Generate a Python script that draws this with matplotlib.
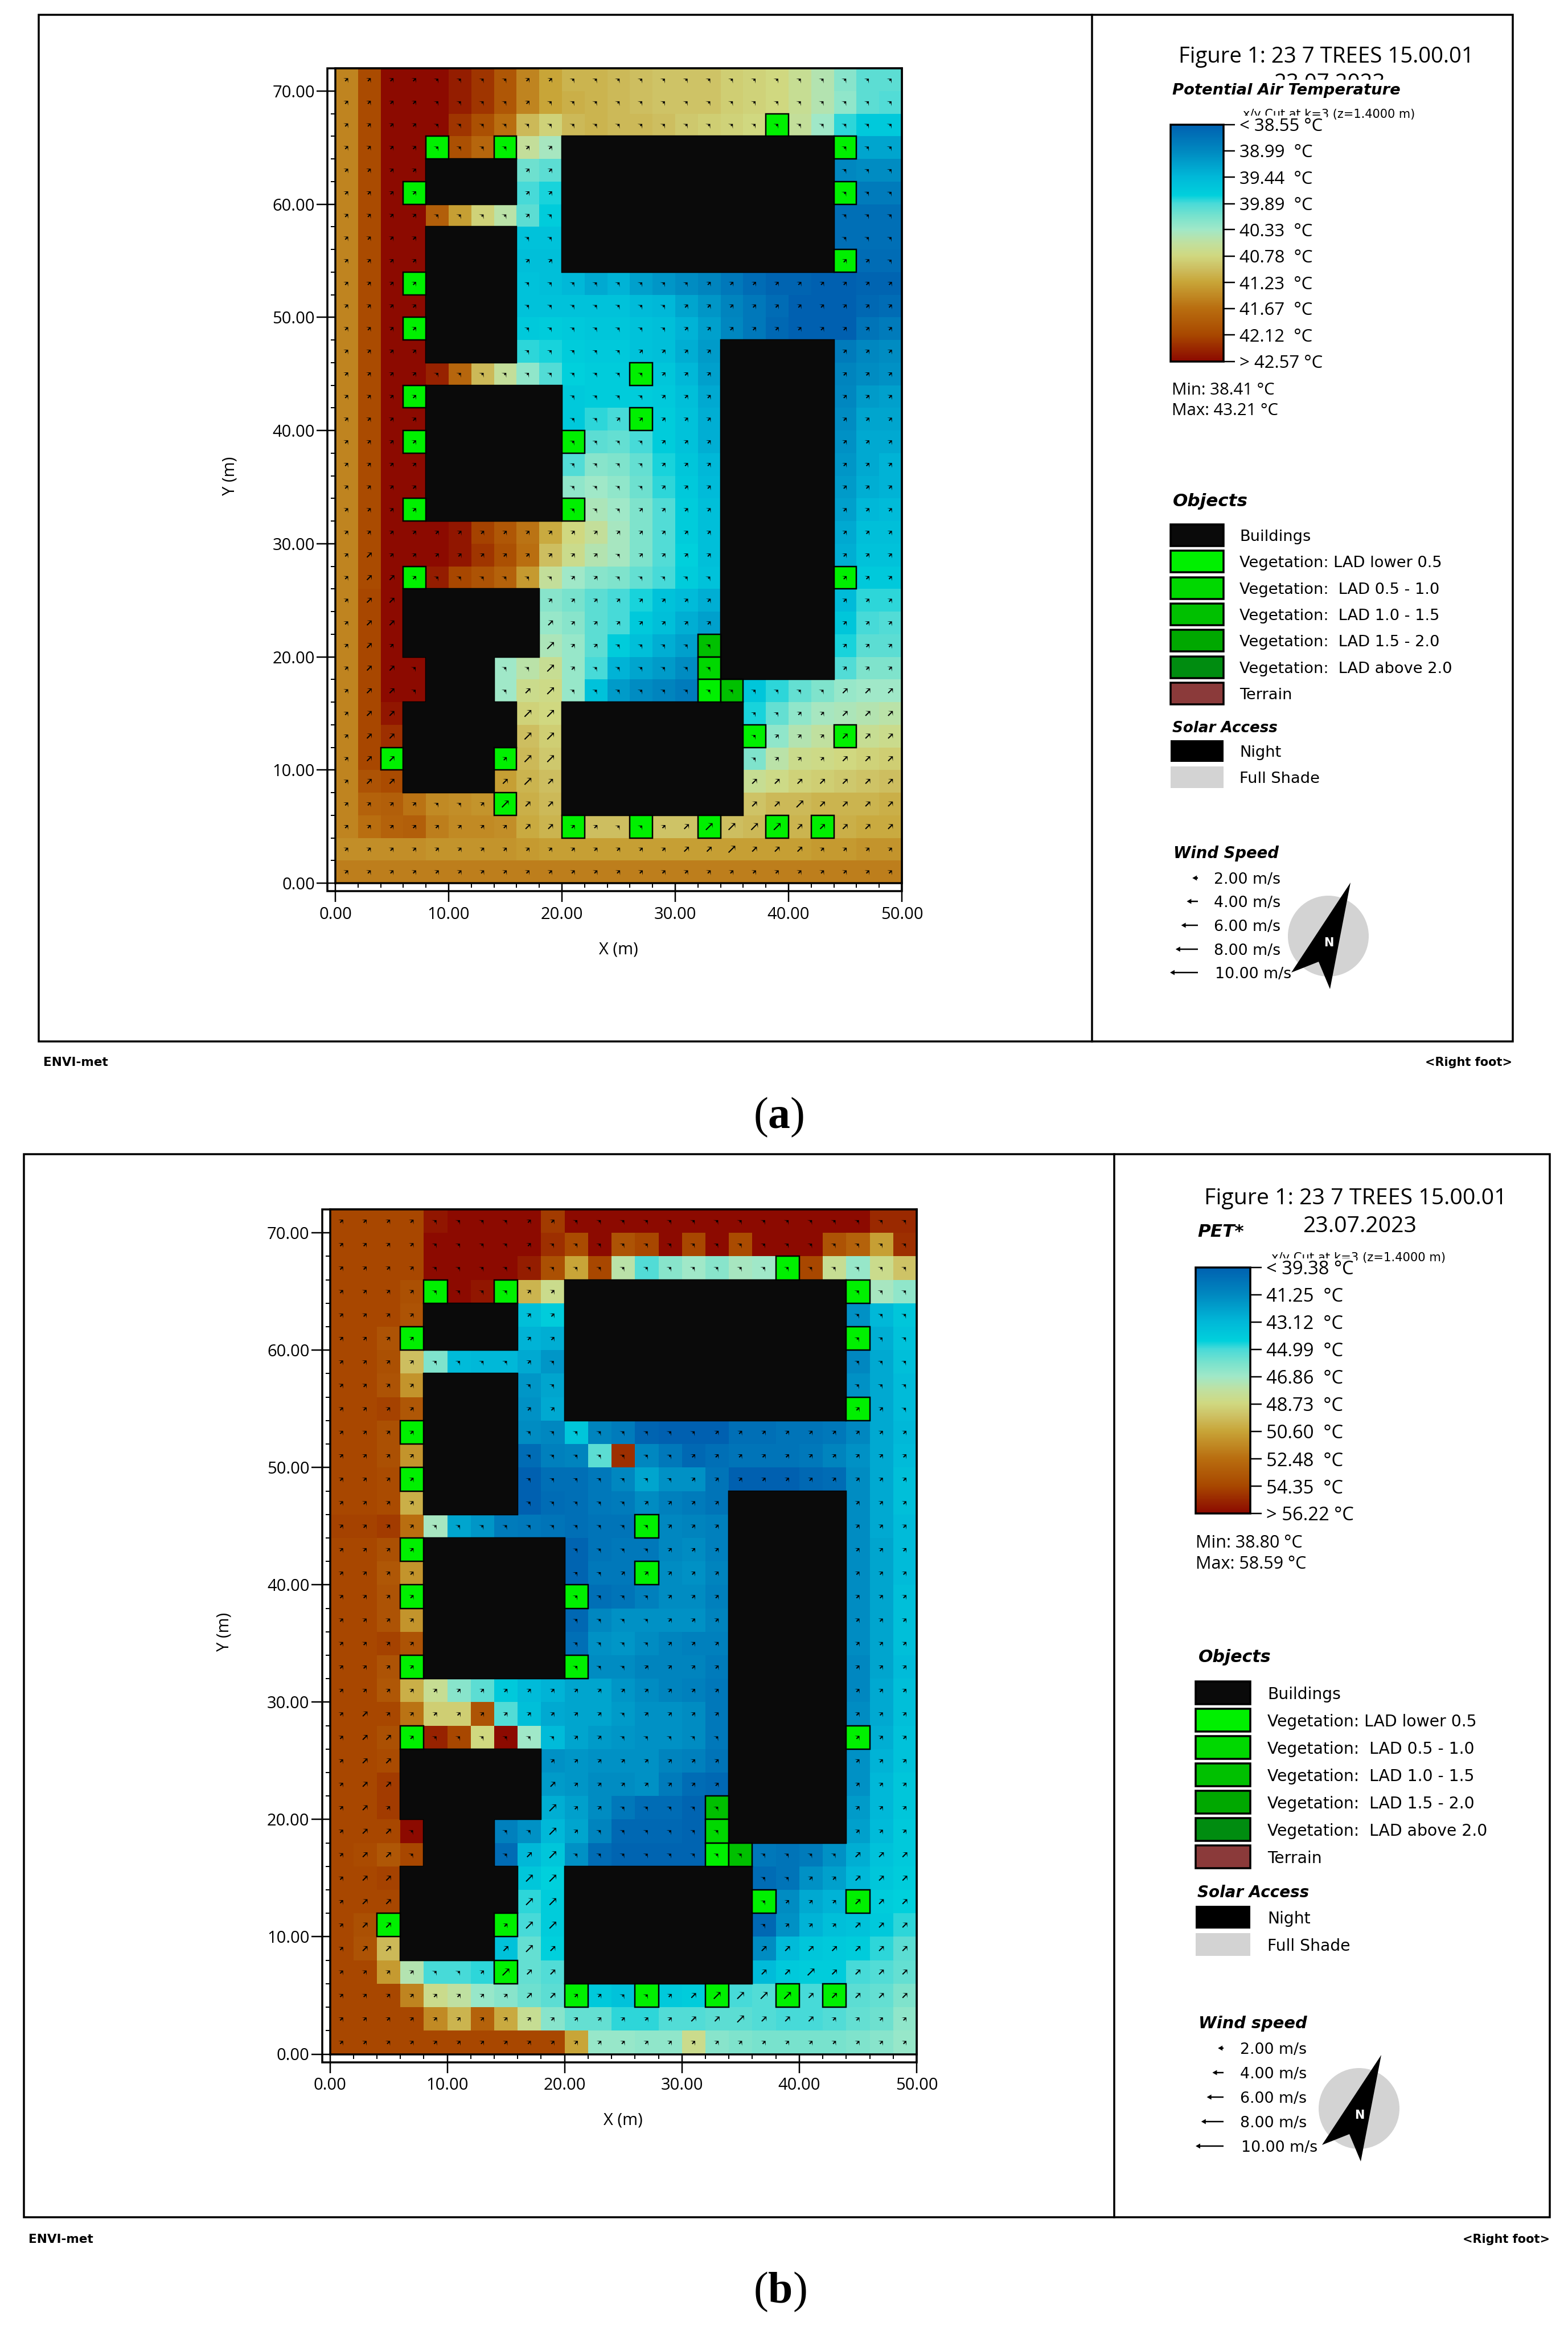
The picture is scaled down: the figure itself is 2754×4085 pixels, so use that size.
import numpy as np
import matplotlib
matplotlib.use("Agg")
import matplotlib.pyplot as plt
from matplotlib.colors import LinearSegmentedColormap, Normalize
from matplotlib.cm import ScalarMappable
from matplotlib.patches import Rectangle, Ellipse, Polygon

plt.rcParams['mathtext.fontset'] = 'custom'
plt.rcParams['mathtext.bf'] = 'Liberation Serif:bold'
plt.rcParams['mathtext.rm'] = 'Liberation Serif'

n = np.nan
X4, X5, X6, X8, X12 = [n]*4, [n]*5, [n]*6, [n]*8, [n]*12

# ---- data: cell values as positions on the 0..9 legend scale (top row first)
LEVELS_A = [
 [6.6,7.9,9,9,9,8.7,8.3,7.6,6.6,6.0,5.7,5.7,5.6,5.5,5.4,5.4,5.4,5.2,5.1,5.0,4.7,4.3,3.7,3.2,3.2],
 [6.6,7.9,9,9,9,8.7,8.3,7.6,6.6,6.0,5.8,5.7,5.6,5.5,5.4,5.4,5.4,5.2,5.1,5.0,4.7,4.3,3.8,3.2,3.1],
 [6.6,7.9,9,9,9,8.3,7.8,7.0,5.6,5.1,5.6,5.7,5.6,5.6,5.5,5.3,5.2,5.1,5.0,n,4.6,4.0,2.9,2.5,2.5],
 [6.6,7.9,9,9,n,7.8,7.2,n,4.6,4.1,*X12,n,1.6,1.6],
 [6.6,7.9,9,9,*X4,3.4,3.2,*X12,1.0,1.1,1.1],
 [6.6,7.9,9,n,*X4,3.0,2.8,*X12,n,.7,.7],
 [6.6,7.9,9,9,7.4,6.1,5.1,4.4,3.2,2.6,*X12,.4,.4,.4],
 [6.6,7.9,9,9,*X4,2.3,2.3,*X12,.4,.4,.4],
 [6.6,7.9,9,9,*X4,2.2,2.2,*X12,n,.3,.3],
 [6.6,7.9,9,n,*X4,2.3,2.2,2.0,1.7,1.9,1.5,1.3,1.1,.9,.6,.3,.1,.1,0,0,.1,.1],
 [6.6,7.9,9,9,*X4,2.3,2.3,2.3,2.3,2.3,2.1,2.0,1.6,1.3,.9,.6,.3,0,0,0,.2,.3],
 [6.6,7.9,9,n,*X4,2.5,2.6,2.5,2.4,2.4,2.3,2.2,1.9,1.5,1.0,.6,.2,0,0,0,.5,.7],
 [6.6,7.9,9,9,*X4,2.9,2.8,2.6,2.5,2.5,2.3,2.2,1.8,1.4,*X5,.7,1.0,1.1],
 [6.6,7.9,9,9,8.6,7.2,5.6,4.6,3.8,3.1,2.7,2.6,2.6,n,2.4,2.0,1.5,*X5,.9,1.1,1.2],
 [6.6,7.9,9,n,*X6,2.5,2.6,2.6,2.6,2.5,2.2,1.7,*X5,1.0,1.4,1.5],
 [6.6,7.9,9,9,*X6,2.5,2.9,3.0,n,2.6,2.3,1.8,*X5,1.1,1.6,1.6],
 [6.6,7.9,9,n,*X6,n,3.2,3.3,3.0,2.6,2.3,1.8,*X5,1.2,1.7,1.7],
 [6.6,7.9,9,9,*X6,3.1,3.7,3.6,3.3,2.8,2.4,2.0,*X5,1.3,1.7,1.9],
 [6.6,7.9,9,9,*X6,3.8,4.0,3.8,3.4,2.9,2.5,2.1,*X5,1.4,1.8,1.9],
 [6.6,7.9,9,n,*X6,n,4.2,4.0,3.6,3.1,2.6,2.2,*X5,1.5,2.0,2.1],
 [6.6,7.9,9,9,9,8.8,8.1,7.6,6.9,5.9,5.0,4.6,4.1,3.6,3.1,2.6,2.2,*X5,1.7,2.2,2.2],
 [6.6,7.9,9,9,9,8.8,8.3,7.8,7.0,5.5,4.8,4.3,4.1,3.6,3.1,2.7,2.2,*X5,1.8,2.3,2.3],
 [6.6,7.9,9,n,8.7,8.0,7.7,7.3,6.2,4.6,4.0,3.7,3.6,3.3,3.0,2.6,2.3,*X5,n,2.5,2.5],
 [6.6,8,9,*X6,3.7,3.5,3.2,3.0,2.8,2.3,2.1,1.8,*X5,2.1,2.9,2.9],
 [6.6,8,9,*X6,3.9,3.7,3.2,3.0,2.5,2.2,1.8,1.5,*X5,2.4,3.0,3.1],
 [6.6,8,9,*X6,4.2,3.9,3.2,2.6,2.2,1.8,1.5,n,*X5,2.8,3.2,3.2],
 [6.6,8,9,9,n,n,n,4.0,4.4,4.7,3.9,3.0,1.9,1.6,1.4,1.1,n,*X5,3.1,3.6,3.6],
 [6.6,8,9,9,n,n,n,4.0,4.8,4.9,3.9,2.3,1.4,1.1,.9,.7,n,n,2.4,2.9,3.3,3.6,3.9,4.0,4.0],
 [6.6,8,8.8,*X5,5.1,5.0,*X8,2.8,3.3,3.8,4.1,4.2,4.3,4.4],
 [6.6,8,8.4,*X5,5.5,5.2,*X8,n,3.8,4.3,4.5,n,4.7,4.8],
 [6.6,8,n,*X4,n,5.6,5.3,*X8,3.6,4.4,4.8,4.9,5.0,5.1,5.2],
 [6.6,7.7,7.9,*X4,6.1,5.7,5.5,*X8,4.7,4.9,5.1,5.2,5.3,5.4,5.5],
 [6.6,7.3,7.4,6.9,6.5,6.4,6.3,n,5.8,5.6,*X8,5.4,5.6,5.6,5.7,5.7,5.7,5.8],
 [6.6,7.0,7.3,7.4,6.7,6.5,6.5,6.4,5.9,5.7,n,5.5,5.5,n,5.4,5.4,n,5.5,5.6,n,5.7,n,5.8,5.9,5.9],
 [6.4,6.4,6.4,6.4,6.3,6.3,6.3,6.3,6.2,6.1,6.1,6.1,6.1,6.1,6.1,6.1,6.1,6.1,6.1,6.1,6.1,6.2,6.2,6.3,6.3],
 [6.7,6.7,6.7,6.7,6.7,6.7,6.7,6.7,6.7,6.7,6.7,6.7,6.7,6.7,6.7,6.7,6.7,6.7,6.7,6.7,6.7,6.7,6.7,6.7,6.7],
]
LEVELS_B = [
 [8,8,8,8,8.8,9,9,9,9,8.2,9,9,9,9,9,9,9,9,9,9,9,9,9,8.5,8.5],
 [8,8,8,8,9,9,9,9,9,8.4,7.9,9,7.7,8.0,9,8,9,7.9,9,9,9,7.7,7.3,6.1,8.4],
 [8,8,8,8,9,9,9,9,8.7,7.8,6.0,8.0,4.4,3.1,3.7,4.0,3.7,4.1,4.0,n,8.0,4.7,3.9,4.8,5.4],
 [8,8,8,7.8,n,9,8.8,n,5.7,4.8,*X12,n,4.1,3.8],
 [8,8,8,7.7,*X4,2.2,2.6,*X12,1.2,2.0,2.4],
 [8,8,7.7,n,*X4,1.9,1.8,*X12,n,1.8,2.3],
 [8,8,7.8,5.5,3.6,2.1,2.0,2.0,1.7,1.3,*X12,1.0,1.7,2.2],
 [8,8,7.7,6.3,*X4,1.3,1.6,*X12,1.2,1.7,2.1],
 [8,8,8.1,7.6,*X4,1.2,1.7,*X12,n,1.7,2.1],
 [8,8,7.8,n,*X4,1.1,1.0,2.4,.9,.7,.1,0,0,0,.4,.4,.5,.5,.6,1.0,1.7,2.0],
 [8,8,7.8,6.3,*X4,.3,.8,.9,3.2,8.4,1.0,.6,.2,.4,.5,.5,.5,.6,.9,1.2,1.7,2.1],
 [8,8,7.9,n,*X4,0,.4,.4,.6,1.0,1.6,1.2,1.2,.5,0,0,0,.2,.3,1.1,1.7,2.2],
 [8,8,7.9,5.8,*X4,0,.3,.4,.6,.7,1.1,.8,.7,.5,*X5,1.1,1.7,2.2],
 [8.1,8.1,8.2,7.0,4.1,1.6,1.3,.7,.6,.5,.4,.5,.5,n,1.0,.9,.8,*X5,1.1,1.7,2.1],
 [8,8,7.8,n,*X6,.1,.5,.6,.6,1.0,1.1,.8,*X5,1.1,1.6,2.1],
 [8,8,7.6,6.3,*X6,.1,.6,.6,n,1.1,1.2,.9,*X5,1.1,1.6,2.1],
 [8,8,7.7,n,*X6,n,.4,.5,.8,1.1,1.1,.8,*X5,1.1,1.6,2.2],
 [8,8,7.7,6.3,*X6,.2,1.0,1.2,1.2,1.2,1.2,.9,*X5,1.1,1.6,2.2],
 [8,8,8.1,7.7,*X6,.4,1.2,1.3,1.1,.9,.8,.8,*X5,1.1,1.6,2.2],
 [8,8,7.7,n,*X6,n,1.1,1.1,.9,.9,.9,.7,*X5,1.0,1.6,2.1],
 [8,8,7.6,5.8,4.7,3.7,3.2,2.5,2.1,1.9,1.6,1.6,1.3,1.1,.9,.8,.6,*X5,1.0,1.7,2.2],
 [8,8,8,6.9,5.2,5.2,7.7,3.1,2.2,1.7,1.6,1.6,1.4,1.2,1.2,1.1,.6,*X5,1.1,1.7,2.2],
 [8,8,7.8,n,8.6,8.0,5.0,9,4.0,2.1,1.6,1.4,1.3,1.2,1.2,1.1,.6,*X5,n,1.8,2.3],
 [8,8,7.9,*X6,1.2,1.3,1.2,1.2,1.2,.9,.8,.5,*X5,1.2,1.9,2.3],
 [8,8,8.2,*X6,1.4,1.3,1.1,1.1,1.2,.7,.3,.2,*X5,1.2,2.0,2.4],
 [8,8,8.2,*X6,1.8,1.5,1.1,.6,.3,.3,.1,n,*X5,1.4,2.0,2.4],
 [8,8,8,9,n,n,n,.8,1.2,2.0,1.6,.9,.2,.2,.2,.1,n,*X5,1.5,2.1,2.5],
 [8,7.9,7.6,8,n,n,n,.3,2.0,2.4,1.2,.3,.1,.1,.1,.1,n,n,.6,.5,.7,1.2,1.8,2.3,2.5],
 [8,8,8.1,*X5,2.4,2.7,*X8,.3,.5,1.2,1.5,2.0,2.4,2.6],
 [8,8,8,*X5,2.9,2.6,*X8,n,1.1,1.7,1.9,n,2.6,2.7],
 [8,7.8,n,*X4,n,3.0,2.6,*X8,.2,1.2,1.9,2.2,2.3,2.5,2.9],
 [8,7.7,5.6,*X4,2.3,3.3,2.7,*X8,1.1,2.1,2.4,2.5,2.6,2.9,3.2],
 [8,8,6.2,4.3,3.0,3.0,2.9,n,3.3,3.1,*X8,2.1,2.5,2.6,2.6,3.0,3.1,3.3],
 [8,8,8,6.6,4.8,4.5,3.9,3.7,3.4,3.2,n,2.5,2.3,n,2.5,2.6,n,3.0,3.1,n,3.0,n,3.2,3.3,3.6],
 [8,8,8,8,6.5,5.7,7.3,5.9,4.7,3.7,3.3,3.3,2.9,2.9,3.1,3.1,3.2,3.2,3.1,3.0,3.0,3.1,3.3,3.4,3.8],
 [8,8,8,8,8,8,8,8,8,8,6.0,3.9,3.9,3.8,3.8,4.8,3.7,3.6,3.5,3.5,3.5,3.5,3.6,3.7,3.9],
]
# wind speed class per cell, top row first (shared by both panels)
WIND_CLASSES = [
 "1111000011000000000000000",
 "1111000010000000000000000",
 "1111000000000000000000000",
 "1111000011000000000000000",
 "1111000011000000000000000",
 "1111000011000000000000000",
 "1111000010000000000000000",
 "1111000000000000000000000",
 "1111000011000000000000110",
 "1111000000000000111111111",
 "1111000000000001111111111",
 "1111000000000001111111111",
 "1111000000000111100000111",
 "1111000000000011100000111",
 "1111000000000011100000111",
 "1111000000001111100000111",
 "1111000000000011100000111",
 "1111000000000011100000111",
 "1111000000000011100000111",
 "1111000000000111100000111",
 "1111111111111111100000111",
 "1211111111110111100000111",
 "1221000000110000000000111",
 "1220000001111111100000111",
 "1220000002111111100000111",
 "1210000003110000000000111",
 "1220000003100000000000111",
 "1220000023000000000000222",
 "1220000033000000000011222",
 "1220000033000000000111222",
 "1220000133000000000111222",
 "1220000232000000002222222",
 "1111001322000000002232222",
 "1111111122110012333322222",
 "1111111111111112232221111",
 "1111111111111111111111111",
]
WIND_SPEED_OF_CLASS = [1.0, 1.5, 2.4, 3.4]
WIND_LEGEND = [2.0, 4.0, 6.0, 8.0, 10.0]
# buildings: x0, x1, y0, y1 (m)
BUILDINGS = [(8,16,60,64),(8,16,46,58),(8,20,32,44),(20,44,54,66),(34,44,18,48),
             (6,18,20,26),(8,14,16,20),(6,14,8,16),(14,16,12,16),(20,36,6,16)]
# trees: x0, y0 (m), LAD class (0 lowest .. 4 highest)
TREES = [(8,64,0),(14,64,0),(38,66,0),(44,64,0),(6,60,0),(44,60,0),(44,54,0),(6,52,0),(6,48,0),
         (26,44,0),(6,42,0),(26,40,0),(6,38,0),(20,38,0),(6,32,0),(20,32,0),(6,26,0),(44,26,0),
         (32,20,2),(32,18,1),(32,16,0),(34,16,2),(36,12,0),(44,12,0),(4,10,0),(14,10,0),(14,6,0),
         (20,4,0),(26,4,0),(32,4,0),(38,4,0),(42,4,0)]
XTICKS = [0, 10, 20, 30, 40, 50]
YTICKS = [0, 10, 20, 30, 40, 50, 60, 70]
TICKS_A = [38.55, 38.99, 39.44, 39.89, 40.33, 40.78, 41.23, 41.67, 42.12, 42.57]
TICKS_B = [39.38, 41.25, 43.12, 44.99, 46.86, 48.73, 50.60, 52.48, 54.35, 56.22]
OBJECT_LABELS = ["Buildings", "Vegetation: LAD lower 0.5", "Vegetation:  LAD 0.5 - 1.0", "Vegetation:  LAD 1.0 - 1.5",
                 "Vegetation:  LAD 1.5 - 2.0", "Vegetation:  LAD above 2.0", "Terrain"]
OBJECT_COLORS = ["#0a0a0a", "#00f000", "#00d800", "#00c000", "#00a800", "#008c10", "#8b3a3a"]
TREE_COLORS = OBJECT_COLORS[1:6]

STOPS = [(0,(0,96,176)),(1,(0,136,192)),(2,(0,184,216)),(2.7,(0,208,220)),(3,(72,218,216)),(3.5,(120,226,205)),
         (4,(160,232,200)),(4.5,(192,224,160)),(5,(208,216,128)),(5.5,(205,190,96)),(6,(200,165,56)),
         (7,(185,110,16)),(8,(168,72,0)),(9,(140,10,0))]
cmap = LinearSegmentedColormap.from_list("envi", [(s/9, tuple(c/255 for c in col)) for s, col in STOPS], N=512)

W, H = 2754, 4085
PX = 0.72
fig = plt.figure(figsize=(W/100, H/100), dpi=100, facecolor="white")
ov = fig.add_axes([0, 0, 1, 1])
ov.set_xlim(0, W); ov.set_ylim(H, 0); ov.axis("off")

SIDE = "Open Sans"
WIDE = "DejaVu Sans"
NARROW = ["Liberation Sans Narrow", "Open Sans"]

def T(x, y, s, size, family=SIDE, **kw):
    kw.setdefault("va", "baseline")
    kw.setdefault("ha", "left")
    kw.setdefault("zorder", 4)
    return ov.text(x, y, s, fontsize=size, family=family, color="black", **kw)

def heading(x, y, s, size):
    T(x, y, s, size, WIDE, weight="bold", style="italic", zorder=6)

def axes_rect(l, t, r, b):
    return [l/W, 1-b/H, (r-l)/W, (b-t)/H]

def panel(L):
    l, t, r, b = L["plot"]
    fl, ft, fr, fb = L["frame"]
    ov.add_patch(Rectangle((fl, ft), fr-fl, fb-ft, fc="none", ec="black", lw=3.5*PX, zorder=1))
    ov.plot([L["div"]]*2, [ft, fb], color="black", lw=3.5*PX, zorder=1)
    ov.add_patch(Rectangle((l-14, t), r-l+14, b-t+14, fc="none", ec="black", lw=3.5*PX, zorder=1))

    ax = fig.add_axes(axes_rect(l, t, r, b))
    ticks = L["ticks"]
    lo, hi = ticks[0], ticks[-1]
    vals = lo + np.array(L["levels"], float)[::-1]*(hi-lo)/9
    xe = np.arange(0, 51, 2); ye = np.arange(0, 73, 2)
    norm = Normalize(lo, hi)
    ax.pcolormesh(xe, ye, np.ma.masked_invalid(vals), cmap=cmap, norm=norm, antialiased=False, linewidth=0)
    for x0, x1, y0, y1 in BUILDINGS:
        ax.add_patch(Rectangle((x0, y0), x1-x0, y1-y0, fc="#0a0a0a", ec="black", lw=2.5*PX, zorder=3))
    for x0, x1, y0, y1 in BUILDINGS:
        ax.add_patch(Rectangle((x0, y0), x1-x0, y1-y0, fc="#0a0a0a", ec="none", zorder=3.05))
    for x0, y0, c in TREES:
        ax.add_patch(Rectangle((x0, y0), 2, 2, fc=TREE_COLORS[c], ec="black", lw=2.5*PX, zorder=3.1))
    xc, yc = np.meshgrid((xe[:-1]+xe[1:])/2, (ye[:-1]+ye[1:])/2)
    speed = np.array([[WIND_SPEED_OF_CLASS[int(ch)] for ch in row] for row in WIND_CLASSES[::-1]])
    keep = np.ones_like(speed, bool)
    for x0, x1, y0, y1 in BUILDINGS:
        keep &= ~((xc > x0) & (xc < x1) & (yc > y0) & (yc < y1))
    ang = np.deg2rad(45)
    ax.quiver(xc[keep], yc[keep], speed[keep]*np.cos(ang), speed[keep]*np.sin(ang), angles="uv", units="dots",
              width=2.0, scale_units="dots", scale=1/4.9, headwidth=6.0, headlength=3.0, headaxislength=1.5,
              minshaft=0.5, minlength=0, pivot="mid", color="black", zorder=4)
    ax.set_xlim(0, 50); ax.set_ylim(0, 72)
    ax.set_xticks(XTICKS); ax.set_yticks(YTICKS)
    ax.set_xticks(np.arange(0, 51, 2), minor=True); ax.set_yticks(np.arange(0, 72, 2), minor=True)
    ax.set_xticklabels([f"{v:.2f}" for v in XTICKS], family=NARROW, fontsize=21)
    ax.set_yticklabels([f"{v:.2f}" for v in YTICKS], family=NARROW, fontsize=21)
    ax.tick_params(which="major", length=33*PX, width=2.5*PX, pad=8*PX)
    ax.tick_params(which="major", axis="y", pad=3*PX)
    ax.tick_params(which="minor", length=8*PX, width=2*PX)
    for s in ax.spines.values():
        s.set_linewidth(3.5*PX)
    ax.set_xlabel("X (m)", family=NARROW, fontsize=21, va="baseline")
    ax.xaxis.set_label_coords(0.5, -124/(b-t))
    ax.set_ylabel("Y (m)", family=NARROW, fontsize=21, va="center")
    ax.yaxis.set_label_coords(-185/(r-l), 0.5)

    # title and clipped text
    T(*L["title"], "Figure 1: 23 7 TREES 15.00.01", L["tsize"], ha="center")
    T(*L["date"], "23.07.2023", L["tsize"], ha="center")
    if "date_cover" in L:
        ov.add_patch(Rectangle(L["date_cover"][:2], L["date_cover"][2], L["date_cover"][3], fc="white", ec="none", zorder=5))
    heading(*L["head"], L["name"], L["hs"][0])
    T(*L["cut"], "x/y Cut at k=3 (z=1.4000 m)", L["cutsize"], WIDE)
    ov.add_patch(Rectangle(L["cut_cover"][:2], L["cut_cover"][2], L["cut_cover"][3], fc="white", ec="none", zorder=5))

    # colorbar
    cl, ct, cr, cb_ = L["cbar"]
    cax = fig.add_axes(axes_rect(cl, ct, cr, cb_))
    cb = fig.colorbar(ScalarMappable(norm=norm, cmap=cmap), cax=cax, ticks=ticks)
    cax.invert_yaxis()
    labs = [f"< {ticks[0]:.2f} °C"] + [f"{v:.2f}  °C" for v in ticks[1:-1]] + [f"> {ticks[-1]:.2f} °C"]
    cb.set_ticklabels(labs, family=SIDE, fontsize=L["cbsize"])
    cax.tick_params(length=20*PX, width=2.5*PX, pad=8*PX)
    cb.outline.set_linewidth(3.5*PX)
    cb.solids.set_edgecolor("face")

    T(L["minmax"][0], L["minmax"][1], L["minlab"], L["mmsize"])
    T(L["minmax"][0], L["minmax"][2], L["maxlab"], L["mmsize"])

    # legends
    heading(*L["obj_head"], "Objects", L["hs"][1])
    for i, (lab, col) in enumerate(zip(OBJECT_LABELS, OBJECT_COLORS)):
        y0 = L["obj_y"] + i*L["obj_pitch"]
        h = L["sw_h"]
        ov.add_patch(Rectangle((cl, y0), cr-cl, h, fc=col, ec="black", lw=3.5*PX, zorder=2))
        T(L["lab_x"], y0+h/2, lab, L["labsize"], WIDE, va="center_baseline")
    heading(*L["sol_head"], "Solar Access", L["hs"][2])
    for y0, col, lab in ((L["night_y"], "black", "Night"), (L["night_y"]+L["obj_pitch"], "#d3d3d3", "Full Shade")):
        ov.add_patch(Rectangle((cl, y0), cr-cl, L["sw_h"], fc=col, ec="none", zorder=2))
        T(L["lab_x"], y0+L["sw_h"]/2, lab, L["labsize"], WIDE, va="center_baseline")
    heading(*L["wind_head"], L["wind_name"], L["hs"][3])
    ws = np.array(WIND_LEGEND)
    ov.quiver(np.full(5, L["wind_x"]), L["wind_y"], -ws, np.zeros(5), angles="uv", units="dots", width=2.5,
              scale_units="dots", scale=1/4.9, headwidth=3.6, headlength=3.2, headaxislength=3.2,
              minshaft=0.5, minlength=0, pivot="tail", color="black", zorder=4)
    for v, y in zip(WIND_LEGEND, L["wind_y"]):
        T(L["wlab_x"] + (2 if v == 10 else 0), y, f"{v:.2f} m/s", 19.3, WIDE, va="center_baseline")

    # compass
    cx, cy = L["comp"]
    ov.add_patch(Ellipse((cx, cy), 142, 142, fc="#d3d3d3", ec="none", zorder=2))
    ov.add_patch(Polygon([(cx+a, cy+b_) for a, b_ in ((39, -94), (3, 93), (-17, 45), (-65, 64))], fc="black", ec="none", zorder=3))
    ov.text(cx+1, cy+12, "N", fontsize=15, family=WIDE, weight="bold", color="white", ha="center", va="center", zorder=4)

    # footers
    T(L["foot_l"], L["foot_y"], "ENVI-met", 15.5, WIDE, weight="bold")
    T(L["foot_r"], L["foot_y"], "<Right foot>", 15, WIDE, weight="bold", ha="right")
    ov.text(L["letter"][0], L["letter"][1], L["letter"][2], fontsize=56, family="Liberation Serif", ha="center", va="baseline", color="black")

panel(dict(
    plot=(589, 120, 1584, 1551), frame=(68, 26, 2657, 1829), div=1918,
    levels=LEVELS_A, ticks=TICKS_A, title=(2329, 110), date=(2335, 157), tsize=27.6,
    date_cover=(2060, 140, 560, 40), head=(2059, 166), name="Potential Air Temperature",
    hs=(19.7, 22.3, 18.8, 19.8), labsize=19.6, cbsize=22.4, mmsize=21.2, cutsize=15,
    cut=(2183, 207), cut_cover=(2170, 203, 160, 14), cbar=(2056, 219, 2149, 635),
    minmax=(2058, 693, 729), minlab="Min: 38.41 °C", maxlab="Max: 43.21 °C",
    obj_head=(2060, 889), obj_y=921, obj_pitch=46.3, sw_h=38, lab_x=2177,
    sol_head=(2059, 1286), night_y=1300, wind_head=(2061, 1507), wind_name="Wind Speed",
    wind_x=2104, wind_y=np.array([1542, 1583, 1625, 1667, 1708]), wlab_x=2132,
    comp=(2333, 1644), foot_l=76, foot_r=2656, foot_y=1872,
    letter=(1368, 1981, r"($\mathbf{a}$)"),
))
panel(dict(
    plot=(579.5, 2124, 1610, 3607.5), frame=(41.5, 2027, 2722, 3894), div=1957,
    levels=LEVELS_B, ticks=TICKS_B, title=(2381, 2115), date=(2388, 2164), tsize=28.3,
    head=(2103, 2172), name="PET*",
    hs=(22.4, 21.6, 20, 20.8), labsize=20.3, cbsize=23.6, mmsize=22, cutsize=15.2,
    cut=(2233, 2215), cut_cover=(2225, 2210, 157, 14), cbar=(2100, 2226, 2196, 2658),
    minmax=(2100, 2718, 2755), minlab="Min: 38.80 °C", maxlab="Max: 58.59 °C",
    obj_head=(2105, 2919), obj_y=2953, obj_pitch=48, sw_h=40, lab_x=2226,
    sol_head=(2103, 3332), night_y=3347, wind_head=(2105, 3562), wind_name="Wind speed",
    wind_x=2149, wind_y=np.array([3597, 3640, 3683, 3726, 3769]), wlab_x=2178,
    comp=(2387, 3703), foot_l=50, foot_r=2722, foot_y=3939,
    letter=(1370, 4044, r"($\mathbf{b}$)"),
))
fig.savefig("out.png", dpi=100, facecolor="white")
